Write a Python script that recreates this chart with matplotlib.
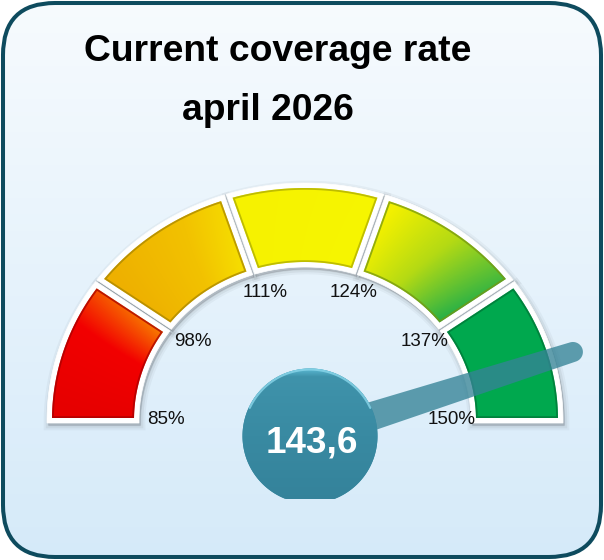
import numpy as np
import matplotlib
matplotlib.use("Agg")
from matplotlib import pyplot as plt
from matplotlib.patches import Polygon, FancyBboxPatch
from matplotlib.colors import LinearSegmentedColormap

plt.rcParams['font.family'] = ['Liberation Sans', 'DejaVu Sans']

# data
bounds = [85, 98, 111, 124, 137, 150]
tick_labels = ["85%", "98%", "111%", "124%", "137%", "150%"]
value = 143.6
value_text = "143,6"
title_lines = ["Current coverage rate", "april 2026"]

# segment colour stops (start -> end of each band)
seg_stops = [
    [(0, '#e60000'), (0.6, '#f20000'), (1, '#f88000')],
    [(0, '#eeb000'), (0.6, '#f2c200'), (1, '#f6e000')],
    [(0, '#f6f200'), (1, '#f6f600')],
    [(0, '#f2f000'), (0.45, '#b4da14'), (1, '#1fae4a')],
    [(0, '#00a84e'), (1, '#00a84e')],
]

W, H = 604, 560
fig = plt.figure(figsize=(W / 100, H / 100), dpi=100)
ax = fig.add_axes([0, 0, 1, 1])
ax.set_xlim(0, W)
ax.set_ylim(H, 0)
ax.axis('off')

# background panel with gradient
box = FancyBboxPatch((3, 3), W - 6, H - 6, boxstyle="round,pad=0,rounding_size=52",
                     fc='none', ec='none')
ax.add_patch(box)
t = np.linspace(0, 1, H)[:, None, None]
top = np.array([247, 251, 254]) / 255
bot = np.array([213, 234, 249]) / 255
bg = top * (1 - t) + bot * t
im = ax.imshow(bg, extent=(0, W, H, 0), aspect='auto', interpolation='bilinear', zorder=0)
im.set_clip_path(box)
ax.add_patch(FancyBboxPatch((3, 3), W - 6, H - 6, boxstyle="round,pad=0,rounding_size=52",
                            fc='none', ec='#0e4b5e', lw=2.9, zorder=20))

# gauge geometry (pixels)
cx, cy = 305, 420
lo, hi = bounds[0], bounds[-1]


def ang(v):
    return 180 - (v - lo) / (hi - lo) * 180


def seg_poly(t1, t2, a_in, b_in, a_out, b_out, d1, d2):
    # t1 > t2 in degrees, d = inward offset in px at each end
    pts = []
    for a, b, rev in [(a_out, b_out, False), (a_in, b_in, True)]:
        r1, r2 = np.radians(t1), np.radians(t2)
        s1 = np.hypot(a * np.sin(r1), b * np.cos(r1))
        s2 = np.hypot(a * np.sin(r2), b * np.cos(r2))
        tt = np.linspace(r1 - d1 / s1, r2 + d2 / s2, 80)
        if rev:
            tt = tt[::-1]
        pts.append(np.column_stack([cx + a * np.cos(tt), cy - b * np.sin(tt)]))
    return np.vstack(pts)


xs = np.arange(W) + 0.5
ys = np.arange(H) + 0.5
X, Y = np.meshgrid(xs, ys)
T = np.degrees(np.arctan2((cy - Y) / 195, (X - cx) / 212))
T = np.where(T < -90, T + 360, T)
# radial position inside the band, 0 = inner edge, 1 = outer edge
RR = np.clip((np.hypot((X - cx) / 212, (cy - Y) / 195) - 0.8) / 0.4, 0, 1)

n = len(bounds) - 1
for i in range(n):
    t1, t2 = ang(bounds[i]), ang(bounds[i + 1])
    e1 = -3 if i == 0 else 1
    e2 = -3 if i == n - 1 else 1
    c1 = 2 if i == 0 else 6
    c2 = 2 if i == n - 1 else 6
    white = seg_poly(t1, t2, 166, 153, 258, 237, e1, e2)
    col = seg_poly(t1, t2, 171, 158, 253, 232, c1, c2)

    for lw_, al in [(7, 0.035), (4, 0.05), (1, 0.07)]:
        ax.add_patch(Polygon(white + [1.5, 2.5], closed=True, fc=(0, 0, 0, al),
                             ec=(0, 0, 0, al), lw=lw_, zorder=2))
    ax.add_patch(Polygon(white, closed=True, fc='white', ec='white', lw=0.5, zorder=3))

    clip = Polygon(col, closed=True, fc='none', ec='none')
    ax.add_patch(clip)
    cmap = LinearSegmentedColormap.from_list('s%d' % i, seg_stops[i])
    frac = np.clip((t1 - T) / (t1 - t2) - 0.15 * RR + 0.05, 0, 1)
    rgb = cmap(frac)[..., :3]
    sim = ax.imshow(rgb, extent=(0, W, H, 0), aspect='auto', interpolation='nearest', zorder=4)
    sim.set_clip_path(clip)

    edge_col = np.array(cmap(0.5)[:3]) * 0.7
    bevel = Polygon(col, closed=True, fc='none', ec=edge_col, lw=2.6, alpha=0.75, zorder=5)
    ax.add_patch(bevel)
    bevel.set_clip_path(clip)

# tick labels
for v, lab in zip(bounds, tick_labels):
    r = np.radians(ang(v))
    ax.text(309 + 143 * np.cos(r), 418 - 134 * np.sin(r) + 6.5, lab,
            ha='center', va='baseline', fontsize=13.5, color='#111111', zorder=12)

# needle
px, py = 310, 436
th = np.radians(ang(value))
u = np.array([np.cos(th), -np.sin(th)])
nv = np.array([np.sin(th), np.cos(th)])
P = np.array([px, py])
L = 276
tip = P + u * L
cap = np.linspace(0, np.pi, 30)
cap_pts = np.array([tip + 10 * (np.cos(c) * nv + np.sin(c) * u) for c in cap])
needle = np.vstack([P + nv * 15.5, cap_pts, P - nv * 15.5])
ax.add_patch(Polygon(needle, closed=True, fc='#358396', ec='none', alpha=0.78, zorder=8))

# hub circle
R = 67.5
a = np.linspace(0, 2 * np.pi, 200)
hub = np.column_stack([px + R * np.cos(a), np.minimum(py - R * np.sin(a), 499)])
hub_patch = Polygon(hub, closed=True, fc='#3a8aa2', ec='none', zorder=9)
ax.add_patch(hub_patch)
hub_cmap = LinearSegmentedColormap.from_list('hub', [(0, '#5ab7d1'), (0.06, '#3f93ab'),
                                                      (0.5, '#398aa2'), (1, '#34829a')])
hy = np.clip((ys - (py - R)) / (2 * R), 0, 1)[:, None] * np.ones((1, W))
him = ax.imshow(hub_cmap(hy)[..., :3], extent=(0, W, H, 0), aspect='auto',
                interpolation='bilinear', zorder=10)
him.set_clip_path(hub_patch)
arc = np.linspace(np.radians(25), np.radians(155), 60)
ax.plot(px + (R - 1) * np.cos(arc), py - (R - 1) * np.sin(arc), color='#8ad6ea',
        lw=1.6, alpha=0.8, zorder=11, solid_capstyle='round')

ax.text(312, 452, value_text, ha='center', va='baseline', fontsize=26.6,
        fontweight='bold', color='white', zorder=13)

# title
ax.text(278, 61, title_lines[0], ha='center', va='baseline', fontsize=26.8,
        fontweight='bold', color='black', zorder=13)
ax.text(268, 120, title_lines[1], ha='center', va='baseline', fontsize=26.8,
        fontweight='bold', color='black', zorder=13)

fig.savefig('out.png', dpi=100, facecolor='white')
